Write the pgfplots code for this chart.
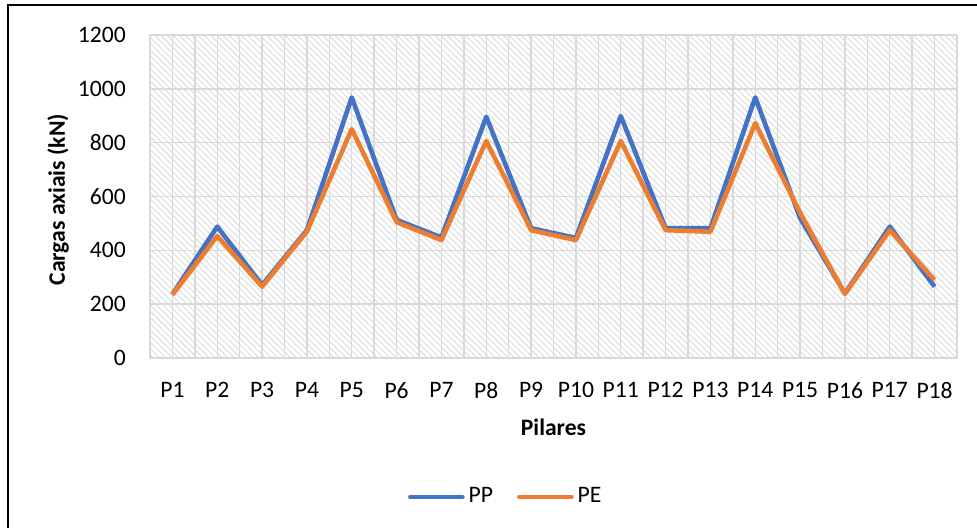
\documentclass[border=0pt]{standalone}
\usepackage{fontspec}
\setmainfont{Carlito}
\usepackage{pgfplots}
\pgfplotsset{compat=1.18}
\usetikzlibrary{patterns.meta}
\definecolor{ppblue}{HTML}{4472C4}
\definecolor{peorange}{HTML}{ED7D31}
\definecolor{gridgray}{HTML}{D9D9D9}
\begin{document}
\fontsize{11.8pt}{13pt}\selectfont
\begin{tikzpicture}
\path[use as bounding box] (0,0) rectangle (488.5pt,-264pt);
\fill[white] (0,0) rectangle (488.5pt,-264pt);
\draw[black,line width=1pt] (4pt,-264pt) -- (4pt,-2.75pt) -- (488.5pt,-2.75pt);
\begin{axis}[
  at={(75pt,-179pt)}, anchor=south west,
  scale only axis, width=403.5pt, height=161.5pt,
  xmin=-0.5, xmax=17.5, ymin=0, ymax=1200,
  xtick={0,...,17},
  xticklabels={P1,P2,P3,P4,P5,P6,P7,P8,P9,P10,P11,P12,P13,P14,P15,P16,P17,P18},
  minor xtick={-0.5,0.5,...,17.5},
  ytick={0,200,...,1200},
  /pgf/number format/assume math mode=true,
  /pgf/number format/1000 sep={},
  major tick length=0pt, minor tick length=0pt,
  grid=both,
  major grid style={gridgray, line width=0.7pt},
  minor grid style={gridgray, line width=0.7pt},
  axis line style={gridgray, line width=0.7pt},
  axis background/.style={pattern={Lines[angle=-45,distance=2.2pt,line width=0.45pt]}, pattern color=black!14},
  yticklabel style={xshift=-8pt},
  xticklabel style={yshift=-8pt},
  xlabel={\textbf{Pilares}},
  ylabel={\textbf{Cargas axiais (kN)}},
  every axis x label/.style={at={(axis description cs:0.5,0)}, anchor=center, yshift=-34.5pt},
  every axis y label/.style={at={(axis description cs:-0.114,0.49)}, anchor=center, rotate=90},
  legend style={at={(axis description cs:0.442,-0.43)}, anchor=center, draw=none, fill=none,
    legend columns=2, /tikz/every even column/.append style={column sep=10pt},
    inner sep=0pt},
  legend image code/.code={\draw[#1, line cap=round] (0pt,0pt) -- (26pt,0pt);},
  line join=round,
]
\addplot[ppblue, line width=2.3pt] coordinates {
(0,237) (1,488) (2,271) (3,475) (4,968) (5,513) (6,448) (7,896) (8,482)
(9,446) (10,899) (11,482) (12,482) (13,968) (14,520) (15,240) (16,488) (17,265)};
\addplot[peorange, line width=2.3pt] coordinates {
(0,235) (1,453) (2,265) (3,470) (4,850) (5,505) (6,438) (7,806) (8,475)
(9,438) (10,806) (11,475) (12,469) (13,872) (14,540) (15,238) (16,475) (17,290)};
\legend{PP,PE}
\end{axis}
\end{tikzpicture}
\end{document}
